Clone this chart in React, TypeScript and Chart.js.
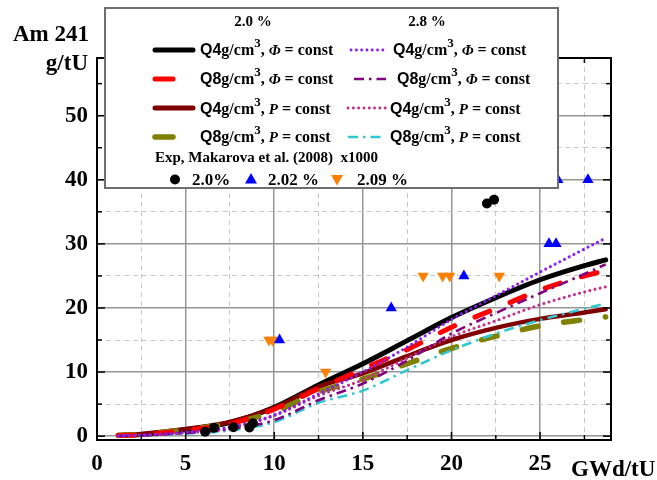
import React, { useEffect, useRef } from "react";
import { Chart, registerables } from "chart.js";
Chart.register(...registerables);

// Burnup grid of the calculated curves (GWd/tU)
const burnup = [1.2, 2.5, 5, 7.5, 10, 12.5, 15, 17.5, 20, 22.5, 25, 27.5, 28.7];
// 2.0 % enrichment
const q4PhiLow = [0.1, 0.25, 1.0, 2.1, 4.5, 8.0, 11.3, 14.9, 18.5, 21.6, 24.4, 26.6, 27.5];
const q8PhiLow = [0.1, 0.2, 0.9, 1.9, 4.2, 7.4, 10.5, 13.5, 17.0, 19.9, 22.8, 25.0, 25.8];
const q4PLow = [0.15, 0.35, 1.1, 2.2, 4.4, 7.7, 9.8, 12.5, 15.0, 16.9, 18.3, 19.3, 19.8];
const q8PLow = [0.15, 0.3, 1.0, 2.0, 3.8, 6.9, 8.9, 11.3, 13.7, 15.6, 17.2, 18.2, 18.6];
// 2.8 % enrichment
const q4PhiHigh = [0.05, 0.15, 0.6, 1.4, 3.3, 6.6, 10.0, 13.9, 18.2, 21.9, 25.6, 29.2, 30.9];
const q8PhiHigh = [0.05, 0.1, 0.5, 1.1, 2.5, 5.6, 8.2, 11.8, 16.0, 19.2, 22.3, 25.3, 26.8];
const q4PHigh = [0.05, 0.1, 0.5, 1.2, 3.2, 6.3, 8.8, 12.2, 15.5, 18.0, 20.5, 22.5, 23.3];
const q8PHigh = [0.05, 0.1, 0.4, 0.9, 2.2, 5.2, 7.1, 10.3, 13.4, 16.0, 18.1, 19.9, 20.7];

// Experimental data, Makarova et al. (2008), x1000
const exp200X = [6.1, 6.6, 7.7, 8.6, 8.8, 22.0, 22.4];
const exp200Y = [0.7, 1.3, 1.4, 1.35, 2.0, 36.3, 36.9];
const exp202X = [10.3, 16.6, 20.7, 25.5, 25.9, 26.0, 27.7];
const exp202Y = [15, 20, 25, 30, 30, 40, 40];
const exp209X = [9.7, 9.9, 12.9, 18.4, 19.5, 19.9, 22.7];
const exp209Y = [15, 15, 10, 25, 25, 25, 25];

const xTicks = [0, 2.5, 5, 7.5, 10, 12.5, 15, 17.5, 20, 22.5, 25, 27.5];
const yTicks = [0, 5, 10, 15, 20, 25, 30, 35, 40, 45, 50, 55];

const SERIF = '"Liberation Serif", "Times New Roman", serif';
const SANS = '"Liberation Sans", Arial, sans-serif';

const pts = (xs: number[], ys: number[]) => xs.map((x, i) => ({ x, y: ys[i] }));

type Seg = { t: string; f: string; dy?: number };
function runs(ctx: CanvasRenderingContext2D, x: number, y: number, segs: Seg[]) {
  let cx = x;
  for (const s of segs) {
    ctx.font = s.f;
    ctx.fillText(s.t, cx, y + (s.dy || 0));
    cx += ctx.measureText(s.t).width;
  }
}

function entry(q: string, sym: string): Seg[] {
  return [
    { t: q, f: `bold 16px ${SANS}` },
    { t: "g/cm", f: `bold 16px ${SERIF}` },
    { t: "3", f: `bold 13px ${SERIF}`, dy: -8.5 },
    { t: ", ", f: `bold 16px ${SERIF}` },
    { t: sym, f: `italic bold 15px ${SERIF}` },
    { t: " = const", f: `bold 16px ${SERIF}` },
  ];
}

function seg(ctx: CanvasRenderingContext2D, x1: number, x2: number, y: number, color: string, w: number, dash: number[], cap: CanvasLineCap) {
  ctx.save();
  ctx.strokeStyle = color;
  ctx.lineWidth = w;
  ctx.lineCap = cap;
  ctx.setLineDash(dash);
  ctx.beginPath();
  ctx.moveTo(x1, y);
  ctx.lineTo(x2, y);
  ctx.stroke();
  ctx.restore();
}

const DOT = [0.1, 5.2];
const DASHDOT = [10, 5, 2.5, 5];

const decor = {
  id: "decor",
  afterDraw(chart: any) {
    const { ctx, chartArea: a, scales } = chart;
    const sx = scales.x;
    const sy = scales.y;
    ctx.save();
    // inward ticks on all four sides
    ctx.strokeStyle = "#000";
    ctx.lineWidth = 1.5;
    const ln = (x1: number, y1: number, x2: number, y2: number) => {
      ctx.beginPath();
      ctx.moveTo(x1, y1);
      ctx.lineTo(x2, y2);
      ctx.stroke();
    };
    for (const v of xTicks) {
      const px = sx.getPixelForValue(v);
      const L = v % 5 === 0 ? 8 : 5;
      ln(px, a.bottom, px, a.bottom - L);
      ln(px, a.top, px, a.top + L);
    }
    for (const v of yTicks) {
      const py = sy.getPixelForValue(v);
      const L = v % 10 === 0 ? 8 : 5;
      ln(a.left, py, a.left + L, py);
      ln(a.right, py, a.right - L, py);
    }
    // frame
    ctx.lineWidth = 2;
    ctx.strokeRect(a.left, a.top, a.right - a.left, a.bottom - a.top);

    // legend box
    ctx.fillStyle = "#fff";
    ctx.fillRect(105, 8, 453, 180);
    ctx.strokeStyle = "#6e6e6e";
    ctx.lineWidth = 2;
    ctx.strokeRect(105, 8, 453, 180);

    ctx.fillStyle = "#000";
    ctx.textBaseline = "alphabetic";
    ctx.textAlign = "center";
    ctx.font = `bold 15px ${SERIF}`;
    ctx.fillText("2.0 %", 253, 26);
    ctx.fillText("2.8 %", 427, 26);
    ctx.textAlign = "left";

    // row 1
    seg(ctx, 155, 193, 50, "#000", 5, [], "round");
    runs(ctx, 200, 55, entry("Q4", "Φ"));
    seg(ctx, 351, 388, 50, "#8a1ef0", 2.8, DOT, "round");
    runs(ctx, 393, 55, entry("Q4", "Φ"));
    // row 2
    seg(ctx, 155, 173, 79, "#ff0000", 5, [], "round");
    runs(ctx, 200, 84, entry("Q8", "Φ"));
    seg(ctx, 354, 386, 79, "#800080", 2.5, DASHDOT, "butt");
    runs(ctx, 397, 84, entry("Q8", "Φ"));
    // row 3
    seg(ctx, 155, 193, 108, "#800000", 5, [], "round");
    runs(ctx, 200, 114, entry("Q4", "P"));
    seg(ctx, 348, 387, 108, "#c0308c", 2.8, DOT, "round");
    runs(ctx, 390, 114, entry("Q4", "P"));
    // row 4
    seg(ctx, 155, 173, 137, "#808000", 5.5, [], "round");
    runs(ctx, 200, 142, entry("Q8", "P"));
    seg(ctx, 348, 384, 137, "#30c8d0", 2.5, DASHDOT, "butt");
    runs(ctx, 390, 142, entry("Q8", "P"));

    ctx.font = `bold 15px ${SERIF}`;
    ctx.fillText("Exp, Makarova et al. (2008)  x1000", 155, 162);

    // experimental markers row
    ctx.fillStyle = "#000";
    ctx.beginPath();
    ctx.arc(175, 179.5, 5, 0, Math.PI * 2);
    ctx.fill();
    ctx.fillStyle = "#0000ff";
    ctx.beginPath();
    ctx.moveTo(251, 173);
    ctx.lineTo(257, 183.5);
    ctx.lineTo(245, 183.5);
    ctx.closePath();
    ctx.fill();
    ctx.fillStyle = "#ff8000";
    ctx.beginPath();
    ctx.moveTo(331, 175);
    ctx.lineTo(343, 175);
    ctx.lineTo(337, 185.5);
    ctx.closePath();
    ctx.fill();
    ctx.fillStyle = "#000";
    ctx.font = `bold 17px ${SERIF}`;
    ctx.fillText("2.0%", 192, 184.5);
    ctx.fillText("2.02 %", 268, 184.5);
    ctx.fillText("2.09 %", 357, 184.5);

    // axis titles
    ctx.font = `bold 23px ${SERIF}`;
    ctx.fillText("Am 241", 13, 41);
    ctx.textAlign = "right";
    ctx.fillText("g/tU", 88, 70);
    ctx.textAlign = "left";
    ctx.fillText("GWd/tU", 571, 476);
    ctx.restore();
  },
};

export default function App() {
  const ref = useRef<HTMLCanvasElement | null>(null);
  useEffect(() => {
    document.body.style.margin = "0";
    const canvas = ref.current!;
    const line = (label: string, data: number[], color: string, width: number, dash: number[], cap: string, order: number) => ({
      type: "line" as const,
      label,
      data: pts(burnup, data),
      borderColor: color,
      backgroundColor: color,
      borderWidth: width,
      borderDash: dash,
      borderCapStyle: cap,
      pointRadius: 0,
      fill: false,
      cubicInterpolationMode: "monotone" as const,
      order,
    });
    const chart = new Chart(canvas, {
      type: "scatter",
      data: {
        datasets: [
          { type: "scatter", label: "2.0%", data: pts(exp200X, exp200Y), pointStyle: "circle", pointRadius: 5, backgroundColor: "#000", borderColor: "#000", borderWidth: 0, order: 0 } as any,
          { type: "scatter", label: "2.02 %", data: pts(exp202X, exp202Y), pointStyle: "triangle", pointRadius: 6.5, backgroundColor: "#0000ff", borderColor: "#0000ff", borderWidth: 0, order: 0 } as any,
          { type: "scatter", label: "2.09 %", data: pts(exp209X, exp209Y), pointStyle: "triangle", pointRotation: 180, pointRadius: 6.5, backgroundColor: "#ff8000", borderColor: "#ff8000", borderWidth: 0, order: 0 } as any,
          line("Q4g/cm3, Φ = const (2.8 %)", q4PhiHigh, "#8a1ef0", 3, DOT, "round", 1),
          line("Q8g/cm3, Φ = const (2.8 %)", q8PhiHigh, "#800080", 2.6, DASHDOT, "butt", 1),
          line("Q4g/cm3, P = const (2.8 %)", q4PHigh, "#c0308c", 3, DOT, "round", 1),
          line("Q8g/cm3, P = const (2.8 %)", q8PHigh, "#30c8d0", 2.6, DASHDOT, "butt", 1),
          line("Q8g/cm3, Φ = const (2.0 %)", q8PhiLow, "#ff0000", 5, [16, 22], "round", 2),
          line("Q8g/cm3, P = const (2.0 %)", q8PLow, "#808000", 5.5, [16, 26], "round", 2),
          line("Q4g/cm3, P = const (2.0 %)", q4PLow, "#800000", 4.5, [], "round", 3),
          line("Q4g/cm3, Φ = const (2.0 %)", q4PhiLow, "#000000", 5, [], "round", 3),
        ] as any,
      },
      options: {
        animation: false,
        responsive: false,
        devicePixelRatio: 1,
        layout: { padding: { left: 0, top: 58, right: 46, bottom: 0 } },
        plugins: { legend: { display: false }, tooltip: { enabled: false } },
        scales: {
          x: {
            type: "linear",
            min: 0,
            max: 29,
            afterFit: (s: any) => { s.height = 40; },
            afterBuildTicks: (s: any) => { s.ticks = xTicks.map((v) => ({ value: v })); },
            ticks: {
              autoSkip: false,
              maxRotation: 0,
              padding: 10,
              color: "#000",
              font: { family: SERIF, weight: "bold", size: 23 },
              callback: (v: any) => (Number(v) % 5 === 0 ? String(v) : ""),
            },
            grid: {
              drawTicks: false,
              color: (c: any) => (c.tick && c.tick.value % 5 === 0 ? "#969696" : "#c8c8c8"),
              lineWidth: (c: any) => (c.tick && c.tick.value % 5 === 0 ? 1.5 : 1),
            },
            border: {
              display: false,
              dash: (c: any) => (c.tick && c.tick.value % 5 !== 0 ? [5, 4] : []),
            },
          },
          y: {
            type: "linear",
            min: -0.6,
            max: 59,
            afterFit: (s: any) => { s.width = 97; },
            afterBuildTicks: (s: any) => { s.ticks = yTicks.map((v) => ({ value: v })); },
            ticks: {
              autoSkip: false,
              padding: 9,
              color: "#000",
              font: { family: SERIF, weight: "bold", size: 23 },
              callback: (v: any) => (Number(v) % 10 === 0 ? String(v) : ""),
            },
            grid: {
              drawTicks: false,
              color: (c: any) => (c.tick && c.tick.value % 10 === 0 ? "#969696" : "#c8c8c8"),
              lineWidth: (c: any) => (c.tick && c.tick.value % 10 === 0 ? 1.5 : 1),
            },
            border: {
              display: false,
              dash: (c: any) => (c.tick && c.tick.value % 10 !== 0 ? [5, 4] : []),
            },
          },
        },
      } as any,
      plugins: [decor],
    });
    return () => chart.destroy();
  }, []);
  return (
    <div style={{ position: "absolute", left: 0, top: 0, width: 657, height: 480 }}>
      <canvas ref={ref} width={657} height={480} style={{ display: "block" }} />
    </div>
  );
}
